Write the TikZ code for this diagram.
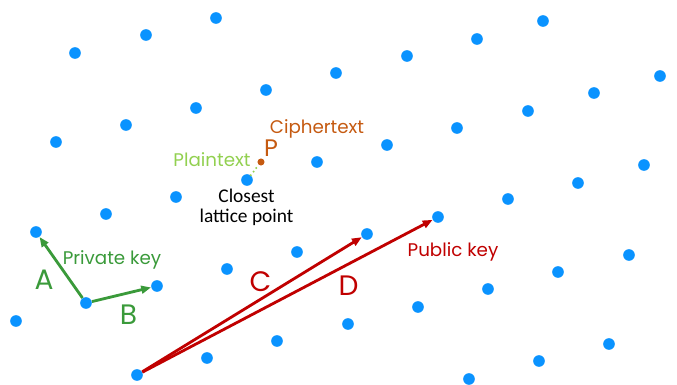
\documentclass[tikz,border=0pt]{standalone}
\usepackage{fontspec}
\setmainfont{Poppins}
\newfontfamily\calibri{Carlito}
\usetikzlibrary{arrows.meta}
\definecolor{latticeblue}{RGB}{10,147,255}
\definecolor{keygreen}{RGB}{58,154,58}
\definecolor{plaingreen}{RGB}{146,208,80}
\definecolor{cipherorange}{RGB}{197,90,17}
\definecolor{pubred}{RGB}{192,0,0}

\begin{document}
\begin{tikzpicture}[x=0.025cm, y=-0.025cm,
    dot/.style={circle, fill=latticeblue, inner sep=0pt, minimum size=8.3pt},
    vec/.style={-{Triangle[length=7pt, width=5.5pt]}, line width=2pt},
    lbl/.style={font=\fontsize{13}{15}\selectfont, anchor=base},
    big/.style={font=\fontsize{20}{24}\selectfont, anchor=base}]
    \useasboundingbox (0,0) rectangle (677,385);

    % Lattice points
    \foreach \x/\y in {216/18, 543/21, 146/35, 477/39, 75/53, 407/56, 336/73,
        660/76, 266/90, 594/93, 196/108, 528/111, 126/125, 457/128, 56/142,
        387/145, 317/162, 644/165, 578/183, 176/197, 508/199, 106/214,
        297/252, 629/255, 227/269, 558/272, 488/289, 418/307, 16/321,
        348/324, 277/341, 609/344, 207/358, 539/361, 469/379} {
        \node[dot] at (\x,\y) {};
    }

    % Points used by the keys
    \node[dot] (privo) at (86,303) {};
    \node[dot] (privA) at (36,232) {};
    \node[dot] (privB) at (157,286) {};
    \node[dot] (pubo) at (137,375) {};
    \node[dot] (pubC) at (367,234) {};
    \node[dot] (pubD) at (438,217) {};
    \node[dot] (closest) at (247,180) {};

    % Ciphertext point
    \node[circle, fill=cipherorange, inner sep=0pt, minimum size=5pt] (cipher) at (261,162) {};
    \draw[plaingreen, line width=1.6pt, line cap=round, dash pattern=on 0pt off 3.2pt]
        (closest) -- (cipher);

    % Private key
    \draw[vec, keygreen] (privo) -- (privA);
    \draw[vec, keygreen] (privo) -- (privB);

    % Public key
    \draw[vec, pubred] (pubo) -- (pubC);
    \draw[vec, pubred] (pubo) -- (pubD);

    % Labels
    \node[lbl, keygreen] (privlbl) at (112,265) {Private key};
    \node[lbl, pubred] (publbl) at (453,257) {Public key};
    \node[lbl, cipherorange] (ciphlbl) at (317,134) {Ciphertext};
    \node[lbl, plaingreen] (plainlbl) at (212,167) {Plaintext};
    \node[font=\fontsize{17}{20}\selectfont, anchor=base, cipherorange] (plbl) at (271,157) {P};
    \node[font=\calibri\fontsize{13.8}{14.3}\selectfont, align=center, anchor=north, inner sep=0pt]
        (closelbl) at (246.5,189) {Closest\\lattice point};
    \node[big, keygreen] (albl) at (44,290) {A};
    \node[big, keygreen] (blbl) at (128.5,325) {B};
    \node[big, pubred] (clbl) at (260.5,292) {C};
    \node[big, pubred] (dlbl) at (348.5,296) {D};
\end{tikzpicture}
\end{document}
